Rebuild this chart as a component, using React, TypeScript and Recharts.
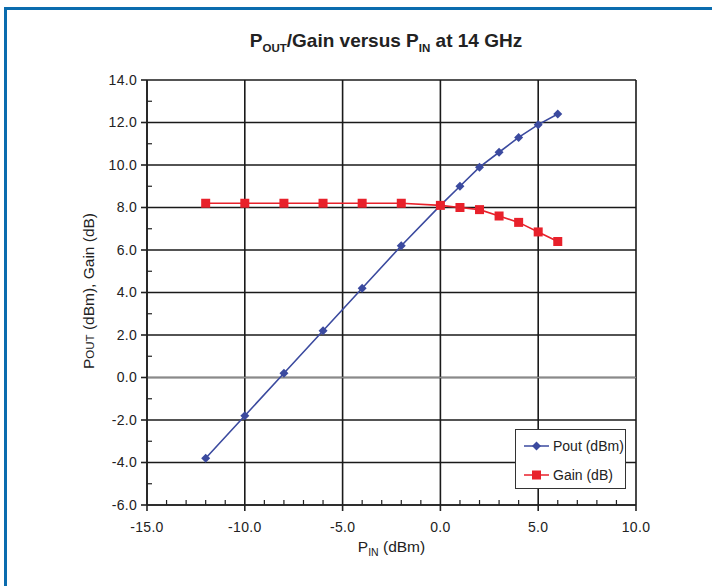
import { CartesianGrid, Line, LineChart, ReferenceLine, XAxis, YAxis } from "recharts";

const pin = [-12, -10, -8, -6, -4, -2, 0, 1, 2, 3, 4, 5, 6];
const pout = [-3.8, -1.8, 0.2, 2.2, 4.2, 6.2, 8.1, 9.0, 9.9, 10.6, 11.3, 11.9, 12.4];
const gain = [8.2, 8.2, 8.2, 8.2, 8.2, 8.2, 8.1, 8.0, 7.9, 7.6, 7.3, 6.85, 6.4];

const xMajor = [-15, -10, -5, 0, 5, 10];
const xAll = [-15, -14, -13, -12, -11, -10, -9, -8, -7, -6, -5, -4, -3, -2, -1, 0, 1, 2, 3, 4, 5, 6, 7, 8, 9, 10];
const yMajor = [-6, -4, -2, 0, 2, 4, 6, 8, 10, 12, 14];
const yAll = [-6, -5, -4, -3, -2, -1, 0, 1, 2, 3, 4, 5, 6, 7, 8, 9, 10, 11, 12, 13, 14];

const data = pin.map((x, i) => ({ pin: x, pout: pout[i], gain: gain[i] }));

const BLUE = "#3b4a9f";
const RED = "#e8212b";
const INK = "#222";
const FONT = "'Liberation Sans', Arial, sans-serif";

const Diamond = ({ cx, cy }: any) =>
  cx == null ? null : <path d={`M${cx},${cy - 4.5}L${cx + 4.5},${cy}L${cx},${cy + 4.5}L${cx - 4.5},${cy}Z`} fill={BLUE} />;

const Square = ({ cx, cy }: any) =>
  cx == null ? null : <rect x={cx - 4.5} y={cy - 4.5} width={9} height={9} fill={RED} />;

// major ticks point out with a label, minor ticks point into the plot
const XTick = ({ x, y, payload }: any) => {
  const v = payload.value;
  const major = v % 5 === 0;
  return (
    <g>
      <line x1={x} y1={y} x2={x} y2={major ? y + 6 : y - 5} stroke={INK} strokeWidth={major ? 1.6 : 1.2} />
      {major && (
        <text x={x} y={y + 17} dy="0.71em" textAnchor="middle" fill={INK} fontSize={14} fontFamily={FONT} letterSpacing={0.3}>
          {v.toFixed(1)}
        </text>
      )}
    </g>
  );
};

const YTick = ({ x, y, payload }: any) => {
  const v = payload.value;
  const major = v % 2 === 0;
  return (
    <g>
      <line x1={x} y1={y} x2={major ? x - 6 : x + 5} y2={y} stroke={INK} strokeWidth={major ? 1.6 : 1.2} />
      {major && (
        <text x={x - 10} y={y} dy="0.35em" textAnchor="end" fill={INK} fontSize={14} fontFamily={FONT} letterSpacing={0.3}>
          {v.toFixed(1)}
        </text>
      )}
    </g>
  );
};

function LegendBox() {
  const row = (color: string, marker: "d" | "s", label: string) => (
    <div style={{ display: "flex", alignItems: "center", height: 29 }}>
      <svg width={28} height={12}>
        <line x1={1} y1={6} x2={26} y2={6} stroke={color} strokeWidth={1.5} />
        {marker === "d" ? (
          <path d="M13.5,1.5L18,6L13.5,10.5L9,6Z" fill={color} />
        ) : (
          <rect x={9} y={1.5} width={9} height={9} fill={color} />
        )}
      </svg>
      <span style={{ marginLeft: 2 }}>{label}</span>
    </div>
  );
  return (
    <div
      style={{
        position: "absolute",
        left: 515,
        top: 429,
        width: 111,
        height: 60,
        boxSizing: "border-box",
        background: "#fff",
        border: "1.5px solid #333",
        padding: "1px 0 0 7px",
        fontFamily: FONT,
        fontSize: 14,
        color: INK,
        whiteSpace: "nowrap",
      }}
    >
      {row(BLUE, "d", "Pout (dBm)")}
      {row(RED, "s", "Gain (dB)")}
    </div>
  );
}

export default function App() {
  return (
    <div style={{ position: "absolute", left: 0, top: 0, width: 712, height: 586, background: "#fff" }}>
      <div
        style={{
          position: "absolute",
          left: 4,
          top: 7,
          right: 0,
          bottom: 0,
          borderTop: "3px solid #0b6cae",
          borderLeft: "3px solid #0b6cae",
        }}
      />
      <LineChart width={712} height={586} data={data} margin={{ top: 80, right: 76, bottom: 51, left: 87 }}>
        <CartesianGrid stroke="#1a1a1a" strokeWidth={1.6} verticalValues={xMajor} horizontalValues={yMajor} />
        <ReferenceLine y={0} stroke="#8a8a8a" strokeWidth={1.6} />
        <XAxis
          dataKey="pin"
          type="number"
          domain={[-15, 10]}
          ticks={xAll}
          interval={0}
          tick={<XTick />}
          tickLine={false}
          tickSize={0}
          tickMargin={0}
          height={30}
          axisLine={{ stroke: INK, strokeWidth: 1.6 }}
        />
        <YAxis
          type="number"
          domain={[-6, 14]}
          ticks={yAll}
          interval={0}
          tick={<YTick />}
          tickLine={false}
          tickSize={0}
          tickMargin={0}
          width={60}
          axisLine={{ stroke: INK, strokeWidth: 1.6 }}
        />
        <Line dataKey="pout" stroke={BLUE} strokeWidth={1.6} dot={<Diamond />} isAnimationActive={false} />
        <Line dataKey="gain" stroke={RED} strokeWidth={1.6} dot={<Square />} isAnimationActive={false} />
      </LineChart>
      <LegendBox />
      <div
        style={{
          position: "absolute",
          top: 30,
          left: 0,
          width: 772,
          textAlign: "center",
          fontFamily: FONT,
          fontWeight: "bold",
          fontSize: 19,
          color: INK,
        }}
      >
        P<sub style={{ fontSize: 11.5 }}>OUT</sub>/Gain versus P<sub style={{ fontSize: 11.5 }}>IN</sub> at 14 GHz
      </div>
      <div
        style={{
          position: "absolute",
          top: 538,
          left: 147,
          width: 489,
          textAlign: "center",
          fontFamily: FONT,
          fontSize: 15.5,
          color: INK,
        }}
      >
        P<sub style={{ fontSize: 10.5 }}>IN</sub> (dBm)
      </div>
      <div
        style={{
          position: "absolute",
          left: 89,
          top: 291,
          transform: "translate(-50%, -50%) rotate(-90deg)",
          whiteSpace: "nowrap",
          fontFamily: FONT,
          fontSize: 15.5,
          color: INK,
        }}
      >
        P<span style={{ fontSize: 11.5 }}>OUT</span> (dBm), Gain (dB)
      </div>
    </div>
  );
}
